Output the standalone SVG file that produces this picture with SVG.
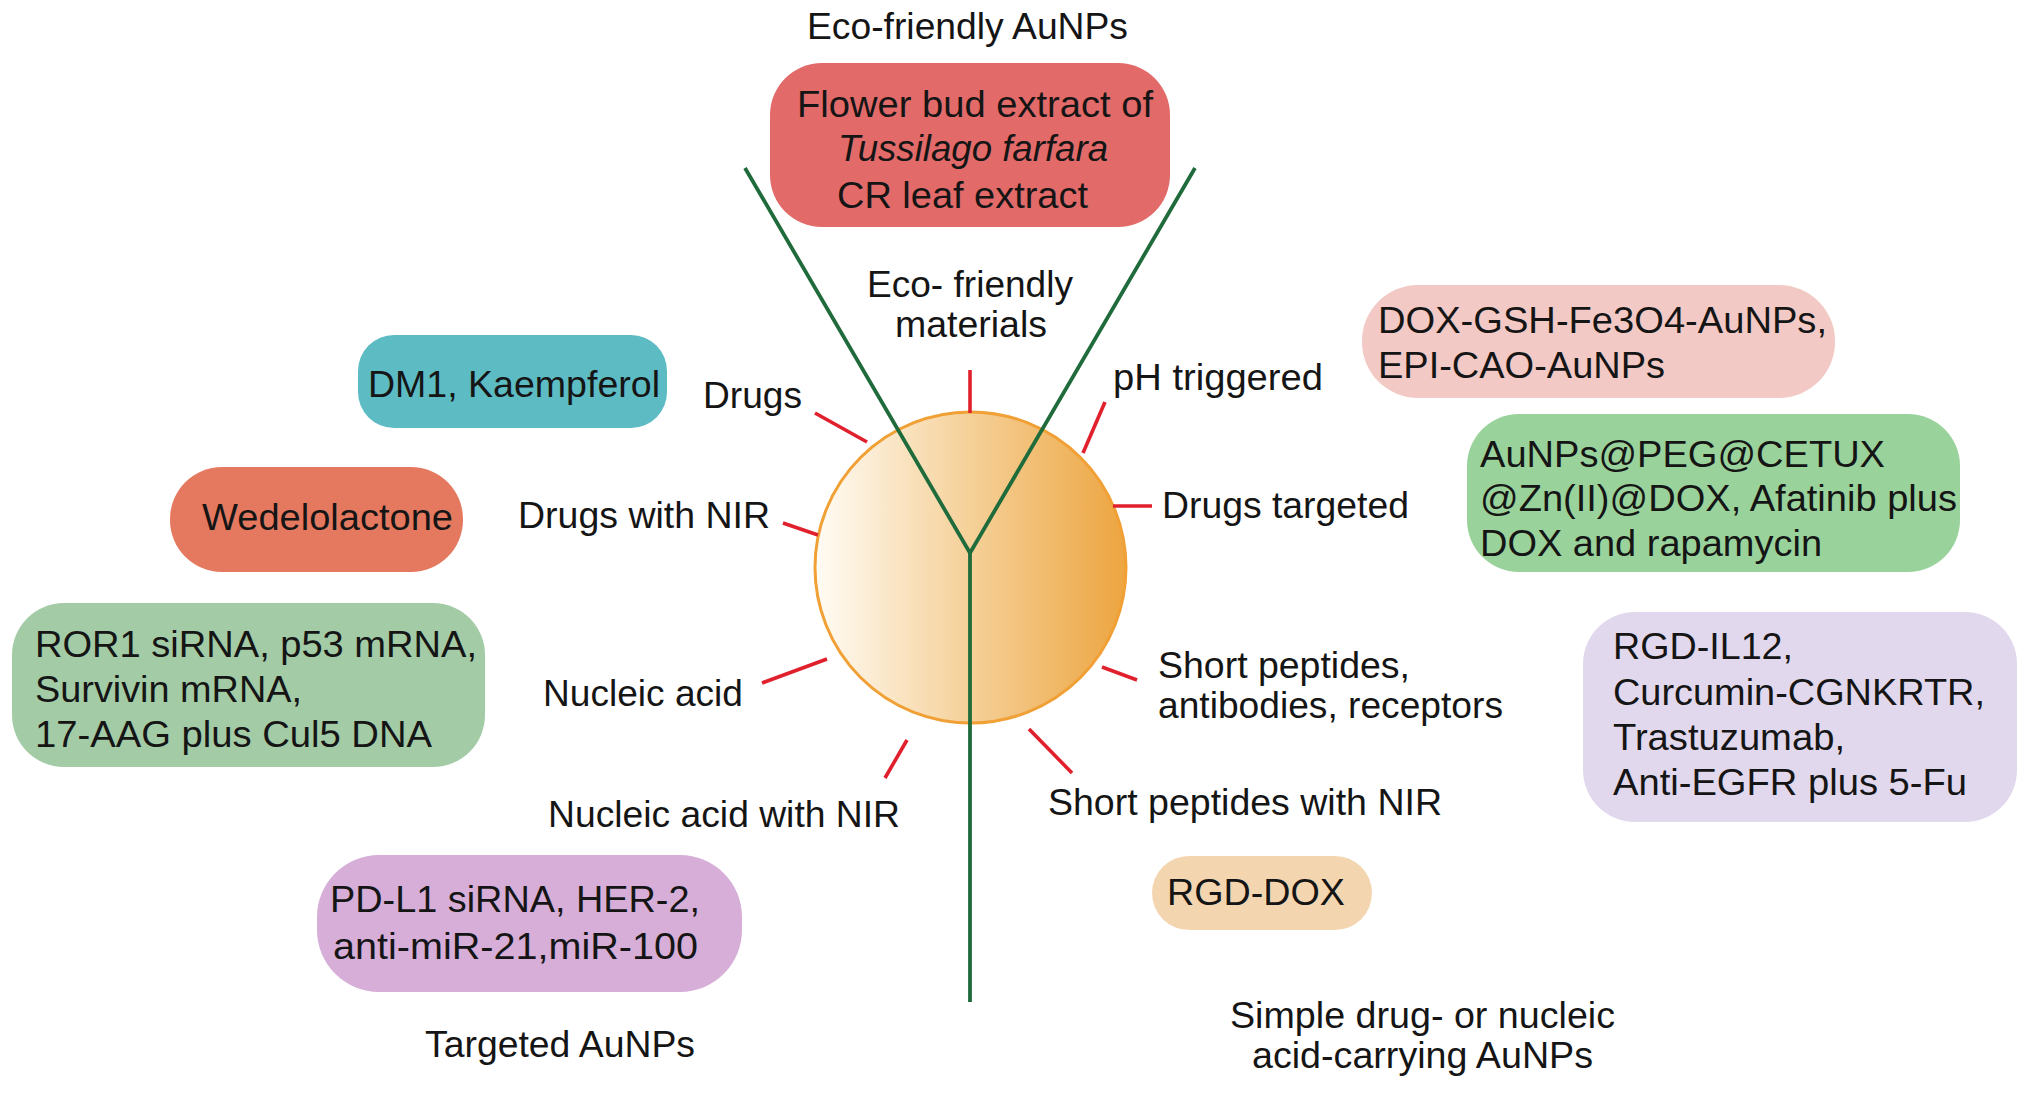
<svg xmlns="http://www.w3.org/2000/svg" width="2031" height="1094" viewBox="0 0 2031 1094">
<defs>
<linearGradient id="gold" x1="0" y1="0" x2="1" y2="0">
<stop offset="0" stop-color="#fffcf5"/>
<stop offset="0.5" stop-color="#f5d098"/>
<stop offset="1" stop-color="#eda540"/>
</linearGradient>
<style>
text{font-family:"Liberation Sans",Arial,Helvetica,sans-serif;font-size:36px;fill:#151515}
.tick{stroke:#e1202d;stroke-width:3.6;stroke-linecap:butt;fill:none}
.y{stroke:#1f6b3b;stroke-width:3.8;fill:none;stroke-linejoin:miter}
.it{font-style:italic}
</style>
</defs>
<rect width="2031" height="1094" fill="#ffffff"/>

<g id="title-eco"><text x="807" y="39" textLength="321" lengthAdjust="spacingAndGlyphs">Eco-friendly AuNPs</text></g>

<g id="box-eco">
<rect x="770" y="63" width="400" height="164" rx="52" fill="#e26a69"/>
<text x="797" y="117" textLength="356" lengthAdjust="spacingAndGlyphs">Flower bud extract of</text>
<text class="it" x="838" y="161" textLength="270" lengthAdjust="spacingAndGlyphs">Tussilago farfara</text>
<text x="837" y="208" textLength="251" lengthAdjust="spacingAndGlyphs">CR leaf extract</text>
</g>

<g id="particle">
<circle cx="970.5" cy="567.5" r="155.5" fill="url(#gold)" stroke="#f0a035" stroke-width="3"/>
</g>

<g id="connectors">
<polyline class="y" points="745,168 970,553 1195,168"/>
<line class="y" x1="970" y1="553" x2="970" y2="1002"/>
<line class="tick" x1="970" y1="370" x2="970" y2="413"/>
<line class="tick" x1="1083" y1="453" x2="1105" y2="402"/>
<line class="tick" x1="1113" y1="506" x2="1152" y2="506"/>
<line class="tick" x1="1102" y1="667" x2="1137" y2="680"/>
<line class="tick" x1="1029" y1="729" x2="1072" y2="773"/>
<line class="tick" x1="907" y1="740" x2="885" y2="778"/>
<line class="tick" x1="762" y1="683" x2="827" y2="659"/>
<line class="tick" x1="783" y1="523" x2="818" y2="535"/>
<line class="tick" x1="815" y1="413" x2="867" y2="442"/>
</g>

<g id="label-eco-materials">
<text x="867" y="297" textLength="206" lengthAdjust="spacingAndGlyphs">Eco- friendly</text>
<text x="895" y="337" textLength="152" lengthAdjust="spacingAndGlyphs">materials</text>
</g>
<g id="label-ph"><text x="1113" y="390" textLength="210" lengthAdjust="spacingAndGlyphs">pH  triggered</text></g>
<g id="label-drugs-targeted"><text x="1162" y="518" textLength="247" lengthAdjust="spacingAndGlyphs">Drugs targeted</text></g>
<g id="label-short-peptides">
<text x="1158" y="678" textLength="252" lengthAdjust="spacingAndGlyphs">Short peptides,</text>
<text x="1158" y="718" textLength="345" lengthAdjust="spacingAndGlyphs">antibodies, receptors</text>
</g>
<g id="label-short-peptides-nir"><text x="1048" y="815" textLength="394" lengthAdjust="spacingAndGlyphs">Short peptides with NIR</text></g>
<g id="label-nucleic-nir"><text x="548" y="827" textLength="352" lengthAdjust="spacingAndGlyphs">Nucleic acid with NIR</text></g>
<g id="label-nucleic"><text x="543" y="706" textLength="200" lengthAdjust="spacingAndGlyphs">Nucleic acid</text></g>
<g id="label-drugs-nir"><text x="518" y="528" textLength="252" lengthAdjust="spacingAndGlyphs">Drugs with NIR</text></g>
<g id="label-drugs"><text x="703" y="408" textLength="99" lengthAdjust="spacingAndGlyphs">Drugs</text></g>

<g id="box-dm1">
<rect x="358" y="335" width="309" height="93" rx="36" fill="#5dbbc4"/>
<text x="368" y="397" textLength="292" lengthAdjust="spacingAndGlyphs">DM1, Kaempferol</text>
</g>

<g id="box-wedelolactone">
<rect x="170" y="467" width="293" height="105" rx="52" fill="#e5795f"/>
<text x="202" y="530" textLength="251" lengthAdjust="spacingAndGlyphs">Wedelolactone</text>
</g>

<g id="box-nucleic">
<rect x="12" y="603" width="473" height="164" rx="52" fill="#a3cba6"/>
<text x="35" y="657" textLength="442" lengthAdjust="spacingAndGlyphs">ROR1 siRNA, p53 mRNA,</text>
<text x="35" y="702" textLength="267" lengthAdjust="spacingAndGlyphs">Survivin mRNA,</text>
<text x="35" y="747" textLength="397" lengthAdjust="spacingAndGlyphs">17-AAG plus Cul5 DNA</text>
</g>

<g id="box-pdl1">
<rect x="317" y="855" width="425" height="137" rx="62" fill="#d6aed8"/>
<text x="330" y="912" textLength="370" lengthAdjust="spacingAndGlyphs">PD-L1 siRNA, HER-2,</text>
<text x="333" y="959" textLength="365" lengthAdjust="spacingAndGlyphs">anti-miR-21,miR-100</text>
</g>

<g id="title-targeted"><text x="425" y="1057" textLength="270" lengthAdjust="spacingAndGlyphs">Targeted AuNPs</text></g>

<g id="box-ph">
<rect x="1362" y="285" width="473" height="113" rx="56" fill="#f2c9c5"/>
<text x="1378" y="333" textLength="449" lengthAdjust="spacingAndGlyphs">DOX-GSH-Fe3O4-AuNPs,</text>
<text x="1378" y="378" textLength="287" lengthAdjust="spacingAndGlyphs">EPI-CAO-AuNPs</text>
</g>

<g id="box-drugs-targeted">
<rect x="1467" y="414" width="493" height="158" rx="52" fill="#9ad29b"/>
<text x="1480" y="467" textLength="405" lengthAdjust="spacingAndGlyphs">AuNPs@PEG@CETUX</text>
<text x="1480" y="511" textLength="477" lengthAdjust="spacingAndGlyphs">@Zn(II)@DOX, Afatinib plus</text>
<text x="1480" y="556" textLength="342" lengthAdjust="spacingAndGlyphs">DOX and rapamycin</text>
</g>

<g id="box-peptides">
<rect x="1583" y="612" width="434" height="210" rx="52" fill="#e2d8ee"/>
<text x="1613" y="659" textLength="180" lengthAdjust="spacingAndGlyphs">RGD-IL12,</text>
<text x="1613" y="705" textLength="372" lengthAdjust="spacingAndGlyphs">Curcumin-CGNKRTR,</text>
<text x="1613" y="750" textLength="232" lengthAdjust="spacingAndGlyphs">Trastuzumab,</text>
<text x="1613" y="795" textLength="354" lengthAdjust="spacingAndGlyphs">Anti-EGFR plus 5-Fu</text>
</g>

<g id="box-rgd-dox">
<rect x="1152" y="856" width="220" height="74" rx="37" fill="#f3d6b0"/>
<text x="1167" y="905" textLength="178" lengthAdjust="spacingAndGlyphs">RGD-DOX</text>
</g>

<g id="title-simple">
<text x="1230" y="1028" textLength="385" lengthAdjust="spacingAndGlyphs">Simple drug- or nucleic</text>
<text x="1252" y="1068" textLength="341" lengthAdjust="spacingAndGlyphs">acid-carrying AuNPs</text>
</g>
</svg>
